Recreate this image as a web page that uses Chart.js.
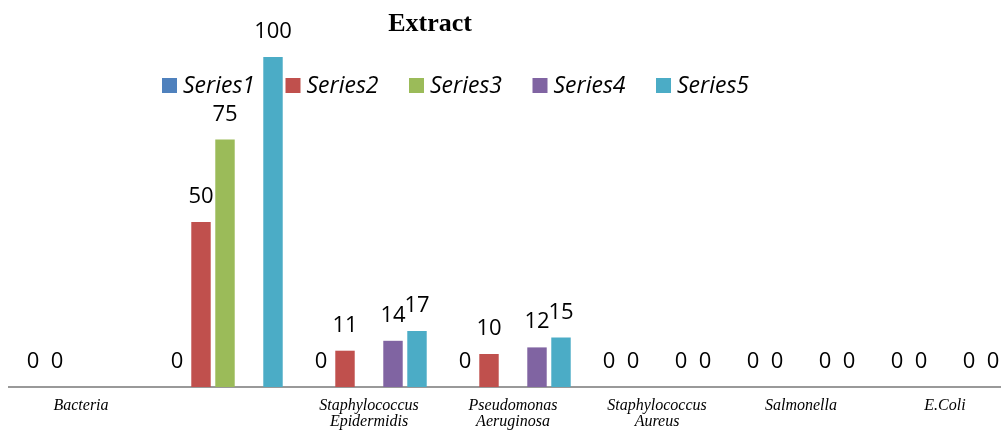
<!DOCTYPE html>
<html>
<head>
<meta charset="utf-8">
<script src="https://cdn.jsdelivr.net/npm/chart.js@4/dist/chart.umd.min.js"></script>
<style>
  html, body { margin: 0; padding: 0; background: #fff; overflow: hidden; }
  #wrap { width: 1020px; height: 432px; }
</style>
</head>
<body>
<div id="wrap"><canvas id="c" width="1020" height="432"></canvas></div>
<script>
// Categories (multi-line labels)
const categories = [
  ['Bacteria'],
  [''],
  ['Staphylococcus', 'Epidermidis'],
  ['Pseudomonas', 'Aeruginosa'],
  ['Staphylococcus', 'Aureus'],
  ['Salmonella'],
  ['E.Coli']
];

// Series values (null = no value for that category)
const series1 = [0, 0, 0, 0, 0, 0, 0];
const series2 = [0, 50, 11, 10, 0, 0, 0];
const series3 = [null, 75, null, null, null, null, null];
const series4 = [null, null, 14, 12, 0, 0, 0];
const series5 = [null, 100, 17, 15, 0, 0, 0];

const seriesNames = ['Series1', 'Series2', 'Series3', 'Series4', 'Series5'];
const seriesColors = ['#4F81BD', '#C0504D', '#9BBB59', '#8064A2', '#4BACC6'];
const seriesData = [series1, series2, series3, series4, series5];

const chartTitle = 'Extract';

// Value labels above each bar
const valueLabels = {
  id: 'valueLabels',
  afterDatasetsDraw(chart) {
    const ctx = chart.ctx;
    ctx.save();
    ctx.font = '22px "Open Sans", sans-serif';
    ctx.fillStyle = '#000';
    ctx.textAlign = 'center';
    ctx.textBaseline = 'alphabetic';
    chart.data.datasets.forEach((ds, di) => {
      const meta = chart.getDatasetMeta(di);
      meta.data.forEach((bar, i) => {
        const v = ds.data[i];
        if (v === null || v === undefined) return;
        ctx.fillText(String(v), bar.x, bar.y - 19);
      });
    });
    ctx.restore();
  }
};

// Title and overlaid legend
const headerAndLegend = {
  id: 'headerAndLegend',
  afterDraw(chart) {
    const ctx = chart.ctx;
    ctx.save();
    ctx.fillStyle = '#000';
    ctx.font = 'bold 26px "Liberation Serif", "Times New Roman", serif';
    ctx.textAlign = 'center';
    ctx.textBaseline = 'alphabetic';
    ctx.fillText(chartTitle, 430, 31);

    ctx.font = 'italic 23px "Open Sans", sans-serif';
    ctx.textAlign = 'left';
    let x = 162;
    const box = 15, boxTop = 78, baseline = 93;
    chart.data.datasets.forEach((ds) => {
      ctx.fillStyle = ds.backgroundColor;
      ctx.fillRect(x, boxTop, box, box);
      ctx.fillStyle = '#000';
      const tx = x + box + 6;
      ctx.fillText(ds.label, tx, baseline);
      x = x + 123.5;
    });
    ctx.restore();
  }
};

new Chart(document.getElementById('c'), {
  type: 'bar',
  data: {
    labels: categories,
    datasets: seriesData.map((d, i) => ({
      label: seriesNames[i],
      data: d,
      backgroundColor: seriesColors[i],
      borderWidth: 0,
      categoryPercentage: 0.8333,
      barPercentage: 0.81
    }))
  },
  options: {
    responsive: false,
    animation: false,
    devicePixelRatio: 1,
    layout: { padding: { top: 57, left: 9, right: 3, bottom: 0 } },
    plugins: {
      legend: { display: false },
      title: { display: false },
      tooltip: { enabled: false }
    },
    scales: {
      x: {
        grid: { display: false, drawTicks: false },
        border: { display: true, color: '#999', width: 2 },
        ticks: {
          color: '#000',
          maxRotation: 0,
          autoSkip: false,
          padding: 11,
          font: { family: '"Liberation Serif", "Times New Roman", serif', style: 'italic', size: 16, lineHeight: 1.0 }
        },
        afterFit(scale) { scale.height = 45; }
      },
      y: {
        display: false,
        min: 0,
        max: 100
      }
    }
  },
  plugins: [valueLabels, headerAndLegend]
});
</script>
</body>
</html>
